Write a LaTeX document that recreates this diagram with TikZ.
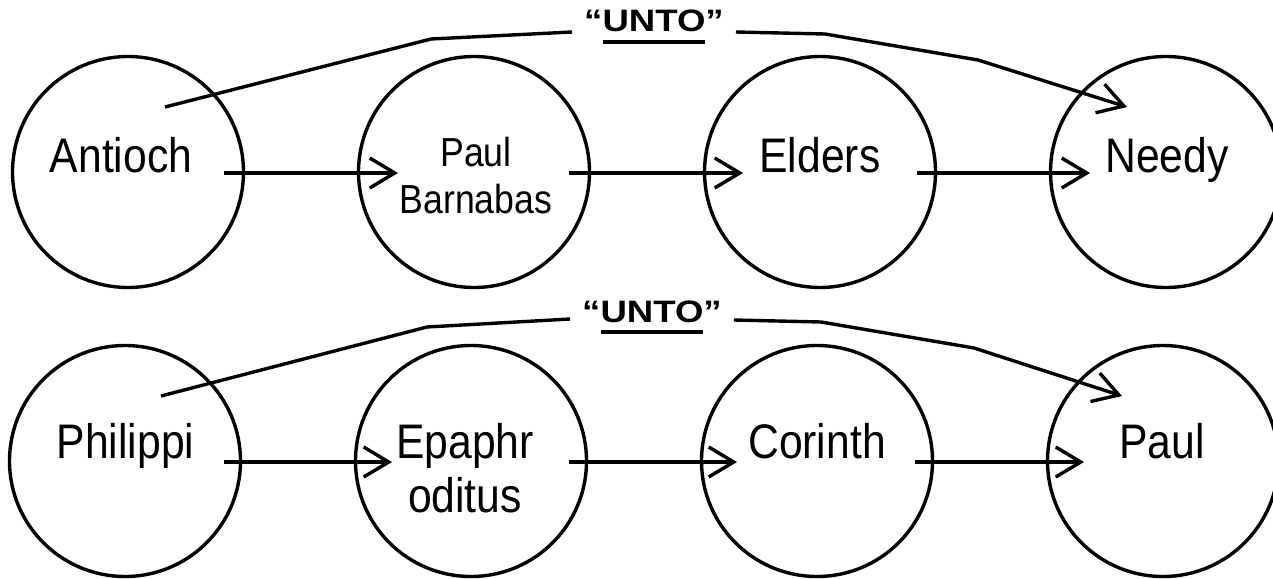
\documentclass[tikz,border=0pt]{standalone}
\usepackage{fontspec}
\setmainfont{Liberation Sans}[FakeStretch=0.88]
\newfontfamily\untofont{Liberation Sans}[FakeStretch=1.18]
\usetikzlibrary{arrows.meta,calc}
\newcommand\thickul[1]{\setbox0\hbox{#1}\rlap{\rule[-11.7pt]{\wd0}{3.5pt}}\box0}
\begin{document}
\begin{tikzpicture}[x=1pt,y=-1pt,
  town/.style={draw, circle, line width=3.4pt, minimum size=231pt, inner sep=0pt},
  big/.style={font=\fontsize{48.5}{54}\selectfont, anchor=base, inner sep=0pt, align=center},
  mid/.style={font=\fontsize{40.5}{47}\selectfont, anchor=base, inner sep=0pt, align=center},
  unto/.style={font=\untofont\bfseries\fontsize{31}{35}\selectfont, anchor=base, inner xsep=12pt, inner ysep=0pt},
  line/.style={line width=3.4pt},
  arr/.style={line width=3.4pt, -{Straight Barb[length=25pt,width=30pt]}}]
\useasboundingbox (0,0) rectangle (1273,578);
% row 1
\node[town] (A) at (128,172) {};
\node[town] (B) at (474,172) {};
\node[town] (C) at (820,172) {};
\node[town] (D) at (1166,172) {};
\node[big] (tA) at (121,172) {Antioch};
\node[mid] (tB) at (476,213) {Paul\\Barnabas};
\node[big] (tC) at (820,172) {Elders};
\node[big] (tD) at (1167,172) {Needy};
\draw[arr] ($(A)+(96,1)$) -- ($(B)+(-76,1)$);
\draw[arr] ($(B)+(95,1)$) -- ($(C)+(-77,1)$);
\draw[arr] ($(C)+(97,1)$) -- ($(D)+(-76,1)$);
\node[unto] (u1) at (654,32) {“\thickul{UNTO}”};
\draw[line] ($(A)+(37,-65)$) -- (431,39) -- (u1.west |- 0,32);
\draw[arr] (u1.east |- 0,32) -- (825,34) -- (978,60) -- ($(D)+(-39,-65)$);
% row 2
\node[town] (E) at (125,461) {};
\node[town] (F) at (471,461) {};
\node[town] (G) at (817,461) {};
\node[town] (H) at (1163,461) {};
\node[big] (tE) at (125.5,458) {Philippi};
\node[big] (tF) at (465,512) {Epaphr\\oditus};
\node[big] (tG) at (817,458) {Corinth};
\node[big] (tH) at (1162,458) {Paul};
\draw[arr] ($(E)+(99,1)$) -- ($(F)+(-79,1)$);
\draw[arr] ($(F)+(98,1)$) -- ($(G)+(-80,1)$);
\draw[arr] ($(G)+(98,1)$) -- ($(H)+(-79,1)$);
\node[unto] (u2) at (652,322) {“\thickul{UNTO}”};
\draw[line] ($(E)+(36,-65)$) -- (427,327) -- (u2.west |- 0,319);
\draw[arr] (u2.east |- 0,320) -- (821,322) -- (974,348) -- ($(H)+(-41,-65)$);
\end{tikzpicture}
\end{document}
